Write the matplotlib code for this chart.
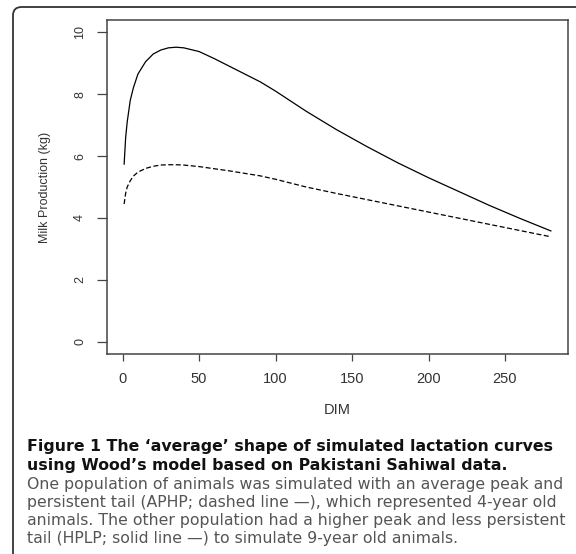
import matplotlib
matplotlib.use("Agg")
import matplotlib.pyplot as plt
from matplotlib.patches import FancyBboxPatch

# Days in milk and average daily yield (kg) for the two simulated populations
dim = [1, 2, 3, 5, 7, 10, 15, 20, 25, 30, 35, 40, 50, 60, 70, 80, 90, 100,
       120, 140, 160, 180, 200, 220, 240, 260, 280]
hplp = [5.74, 6.6, 7.1, 7.8, 8.2, 8.65, 9.05, 9.3, 9.43, 9.5, 9.52, 9.5, 9.38,
        9.15, 8.9, 8.65, 8.4, 8.1, 7.45, 6.85, 6.3, 5.78, 5.3, 4.85, 4.4,
        3.98, 3.58]
aphp = [4.45, 4.8, 5.0, 5.2, 5.35, 5.48, 5.6, 5.67, 5.71, 5.72, 5.72, 5.71,
        5.66, 5.59, 5.52, 5.44, 5.36, 5.25, 5.0, 4.79, 4.59, 4.39, 4.19, 3.99,
        3.79, 3.59, 3.39]

x_ticks = [0, 50, 100, 150, 200, 250]
y_ticks = [0, 2, 4, 6, 8, 10]

caption_title = ["Figure 1 The \u2018average\u2019 shape of simulated lactation curves",
                 "using Wood\u2019s model based on Pakistani Sahiwal data."]
caption_body = ["One population of animals was simulated with an average peak and",
                "persistent tail (APHP; dashed line \u2014), which represented 4-year old",
                "animals. The other population had a higher peak and less persistent",
                "tail (HPLP; solid line \u2014) to simulate 9-year old animals."]

W, H = 576, 554
fig = plt.figure(figsize=(W / 100, H / 100), dpi=100)

# rounded frame around the figure panel
frame = FancyBboxPatch((13 / W, -0.05), 1.1, 1 - 7 / H + 0.05,
                       boxstyle="round,pad=0,rounding_size=0.015",
                       transform=fig.transFigure, fill=False,
                       edgecolor="#333333", linewidth=1.3)
fig.patches.append(frame)

ax = fig.add_axes([107 / W, 1 - 354 / H, (568 - 107) / W, (354 - 20) / H])
ax.plot(dim, hplp, color="black", linewidth=0.9)
ax.plot(dim, aphp, color="black", linewidth=0.9, linestyle=(0, (4, 2)))

ax.set_xlim(-10.2, 291.2)
ax.set_ylim(-0.4, 10.4)
ax.set_xticks(x_ticks)
ax.set_yticks(y_ticks)

for s in ax.spines.values():
    s.set_color("#444444")
    s.set_linewidth(1.1)

ax.tick_params(axis="x", length=5, width=0.9, color="#444444", pad=8,
               labelsize=10.5, labelcolor="#333333")
ax.tick_params(axis="y", length=7, width=0.9, color="#444444", pad=8,
               labelsize=9, labelcolor="#333333", labelrotation=90)
for lab in ax.get_yticklabels():
    lab.set_va("center")
for lab in ax.get_xticklabels() + ax.get_yticklabels():
    lab.set_family("Liberation Sans")

ax.set_xlabel("DIM", fontsize=10.5, family="Liberation Sans", color="#333333")
ax.set_ylabel("Milk Production (kg)", fontsize=9, family="Liberation Sans",
              color="#333333")
ax.xaxis.set_label_coords(0.5, -(410 - 354) / 334)
ax.xaxis.label.set_va("center")
ax.yaxis.set_label_coords(-(107 - 45) / 461, 0.5)
ax.yaxis.label.set_va("center")

y = 447
for line in caption_title:
    fig.text(27 / W, 1 - y / H, line, fontsize=11.3, fontweight="bold",
             family="DejaVu Sans", color="#111111", va="center")
    y += 18.5
for line in caption_body:
    fig.text(27 / W, 1 - y / H, line, fontsize=11.3, family="DejaVu Sans",
             color="#555555", va="center")
    y += 18.2

fig.savefig("out.png", dpi=100)
